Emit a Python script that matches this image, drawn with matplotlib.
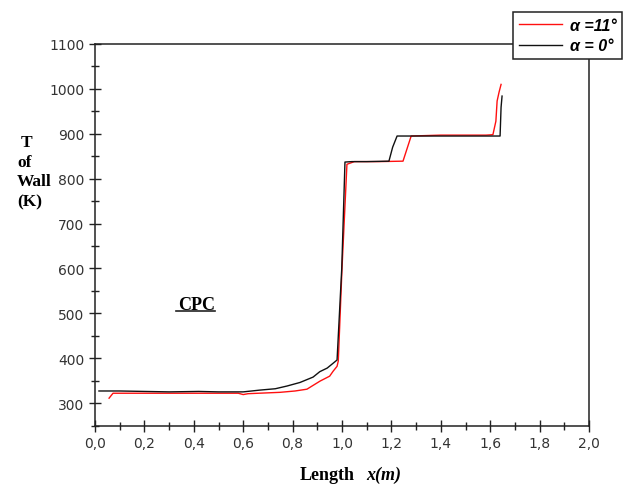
import matplotlib
matplotlib.use('Agg')
import matplotlib.pyplot as plt
from matplotlib.lines import Line2D
from matplotlib.ticker import MultipleLocator, FuncFormatter

# wall temperature along the CPC, two tilt angles
x_a11 = [0.057, 0.073, 0.15, 0.3, 0.45, 0.58, 0.6, 0.62, 0.749, 0.81, 0.858, 0.911,
         0.95, 0.964, 0.98, 0.985, 1.0, 1.02, 1.05, 1.15, 1.247, 1.28, 1.4, 1.583,
         1.611, 1.623, 1.628, 1.636, 1.644]
T_a11 = [311, 322, 322, 322, 322, 322, 319, 321, 324, 327, 331, 349,
         360, 371, 382, 394, 600, 832, 838, 838, 839, 895, 897, 897,
         898, 928, 973, 993, 1010]

x_a0 = [0.016, 0.1, 0.2, 0.3, 0.42, 0.5, 0.6, 0.668, 0.73, 0.777, 0.83, 0.883, 0.91,
        0.94, 0.98, 0.999, 1.012, 1.04, 1.1, 1.19, 1.205, 1.223, 1.3, 1.5, 1.64,
        1.644, 1.648]
T_a0 = [327, 327, 326, 325, 326, 325, 325, 329, 332, 338, 346, 358, 370,
        378, 396, 600, 837, 838, 838, 839, 870, 895, 895, 895, 895,
        959, 984]

fig = plt.figure(figsize=(6.29, 4.85), dpi=100)
ax = fig.add_axes([95/629, 58/485, 494/629, 382/485])

ax.plot(x_a11, T_a11, color='#ff1010', lw=1.0, label='α =11°')
ax.plot(x_a0, T_a0, color='#111111', lw=1.0, label='α = 0°')

ax.set_xlim(0, 2.0)
ax.set_ylim(249, 1100)
ax.xaxis.set_major_locator(MultipleLocator(0.2))
ax.xaxis.set_minor_locator(MultipleLocator(0.1))
ax.yaxis.set_major_locator(MultipleLocator(100))
ax.yaxis.set_minor_locator(MultipleLocator(50))
ax.xaxis.set_major_formatter(FuncFormatter(lambda v, p: f'{v:.1f}'.replace('.', ',')))
ax.yaxis.set_major_formatter(FuncFormatter(lambda v, p: f'{v:.0f}'))

for sp in ax.spines.values():
    sp.set_linewidth(1.1)
    sp.set_color('#222222')

ax.tick_params(which='major', direction='inout', length=9, width=1.0, color='#222222',
               labelsize=10, labelcolor='#333333', labelfontfamily='DejaVu Sans')
ax.tick_params(which='minor', direction='inout', length=6, width=1.0, color='#222222')
ax.tick_params(axis='x', pad=3)
ax.tick_params(axis='y', pad=3)

# CPC label, underlined
ax.text(0.41, 520, 'CPC', fontsize=13, fontweight='bold', family='Liberation Serif',
        ha='center', va='center')
fig.add_artist(Line2D([176/629, 215/629], [1 - 312/485, 1 - 312/485],
                      color='#222222', lw=1.2, transform=fig.transFigure))

# y label stacked on the left
for txt, xp, yp in [('T', 21, 143), ('of', 17, 163), ('Wall', 17, 182), ('(K)', 17, 202)]:
    fig.text(xp/629, 1 - yp/485, txt, fontsize=12.5, fontweight='bold',
             family='Liberation Serif', ha='left', va='center')

# x label
fig.text(300/629, 1 - 476/485, 'Length', fontsize=13, fontweight='bold',
         family='Liberation Serif', ha='left', va='center')
fig.text(366/629, 1 - 475/485, 'x(m)', fontsize=13, fontweight='bold', fontstyle='italic',
         family='Liberation Serif', ha='left', va='center')

leg = fig.legend(loc='upper right', bbox_to_anchor=(622/629, 1 - 13/485), borderaxespad=0,
                 frameon=True, fancybox=False, framealpha=1, edgecolor='#222222',
                 handlelength=2.7, handletextpad=0.5, borderpad=0.35, labelspacing=0.35,
                 prop={'family': 'Liberation Sans', 'style': 'italic', 'weight': 'bold', 'size': 11.5})
leg.get_frame().set_linewidth(1.1)

fig.savefig('out.png', dpi=100)
